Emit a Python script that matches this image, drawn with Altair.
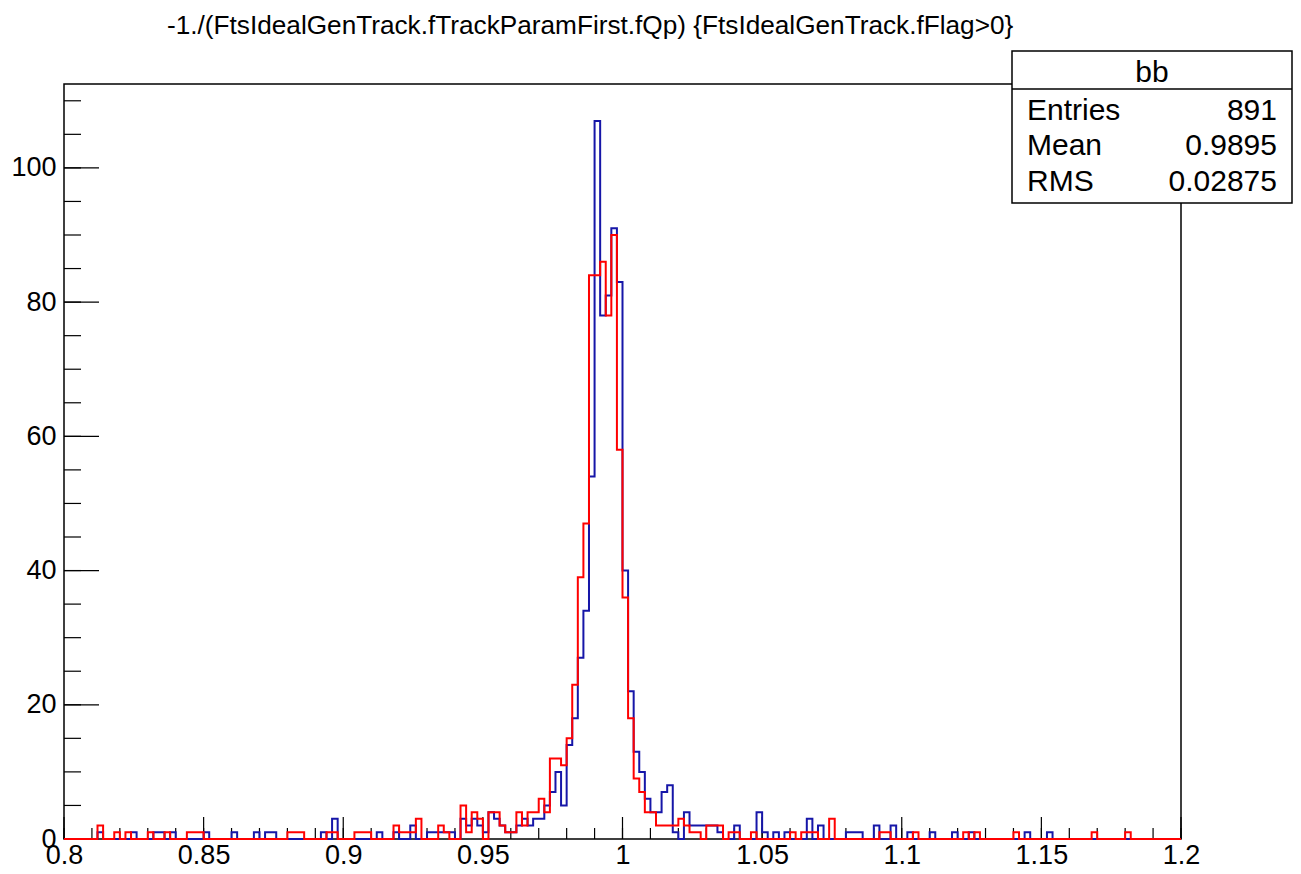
import altair as alt
import pandas as pd

# ---------------- data ----------------
BIN_LO, BIN_W, NBINS = 0.8, 0.002, 200
CORE_START = 69  # first bin index of the dense core lists

# dense core, bins 69..120 (x = 0.938 .. 1.042)
blue_core = [1, 0, 3, 2, 3, 2, 1, 4, 3, 2,
             1, 1, 2, 3, 2, 3, 3, 5, 7, 10,
             5, 14, 18, 27, 34, 54, 107, 78, 81, 91,
             83, 40, 22, 13, 10, 6, 4, 4, 7, 8,
             1, 0, 4, 2, 2, 2, 2, 2, 1, 0,
             0, 2]
red_core = [0, 0, 5, 1, 4, 3, 0, 4, 4, 2,
            1, 1, 4, 2, 4, 4, 6, 4, 12, 12,
            11, 15, 23, 39, 47, 84, 84, 86, 78, 90,
            58, 36, 18, 9, 7, 4, 4, 2, 2, 2,
            2, 3, 2, 1, 1, 0, 2, 2, 2, 0,
            1, 1]

# sparse tails {bin index: count}
blue_tail = {6: 1, 12: 1, 16: 1, 17: 1, 19: 1, 25: 1, 30: 1, 34: 1, 36: 1, 37: 1,
             46: 1, 48: 3, 56: 1, 59: 1, 62: 2, 65: 1, 66: 1, 67: 1, 68: 1,
             124: 4, 125: 1, 127: 1, 129: 1, 133: 3, 135: 2, 140: 1, 141: 1, 142: 1,
             145: 2, 148: 2, 151: 1, 155: 1, 159: 1, 162: 1, 172: 1, 176: 1}
red_tail = {6: 2, 9: 1, 11: 1, 15: 1, 18: 1, 22: 1, 23: 1, 24: 1, 40: 1, 41: 1,
            42: 1, 47: 1, 48: 1, 52: 1, 53: 1, 54: 1, 59: 2, 60: 1, 61: 1, 62: 1,
            63: 3, 67: 2, 68: 1,
            123: 1, 130: 1, 132: 1, 133: 1, 134: 1, 137: 3, 146: 1, 147: 1, 152: 1,
            161: 1, 163: 1, 170: 1, 184: 1, 190: 1}

x_major = [0.8, 0.85, 0.9, 0.95, 1.0, 1.05, 1.1, 1.15, 1.2]
x_minor = [round(0.8 + 0.01 * k, 2) for k in range(41)]
y_major = [0, 20, 40, 60, 80, 100]
y_minor = [5 * k for k in range(23)]

title_text = "-1./(FtsIdealGenTrack.fTrackParamFirst.fQp) {FtsIdealGenTrack.fFlag>0}"
stats_name = "bb"
stats_labels = ["Entries", "Mean", "RMS"]
stats_values = ["891", "0.9895", "0.02875"]

BLUE = "#1616a8"
RED = "#ff0000"
FONT = "Liberation Sans"
W, H = 1117, 755
STAT_FS = 30


def counts(core, tail):
    c = [0] * NBINS
    for k, v in tail.items():
        c[k] = v
    for j, v in enumerate(core):
        c[CORE_START + j] = v
    return c


def hist_frame(core, tail):
    c = counts(core, tail)
    rows = [{"x": round(BIN_LO + BIN_W * i, 4), "n": c[i]} for i in range(NBINS)]
    rows.append({"x": round(BIN_LO + BIN_W * NBINS, 4), "n": c[-1]})
    return pd.DataFrame(rows)


xscale = alt.Scale(domain=[0.8, 1.2], nice=False, zero=False)
yscale = alt.Scale(domain=[0, 112.5], nice=False, zero=False)

xaxis = alt.Axis(values=x_major, format="~g", ticks=False, domain=False,
                 grid=False, labelFontSize=27, labelFont=FONT,
                 labelColor="black", labelPadding=3, labelFlush=False, title=None)
yaxis = alt.Axis(values=y_major, ticks=False, domain=False, grid=False,
                 labelFontSize=27, labelFont=FONT, labelColor="black",
                 labelPadding=8, title=None)


def X(field):
    return alt.X(field, scale=xscale, axis=xaxis, title=None)


def Y(field):
    return alt.Y(field, scale=yscale, axis=yaxis, title=None)


one = pd.DataFrame({"a": [0]})

blue_line = alt.Chart(hist_frame(blue_core, blue_tail)).mark_line(
    interpolate="step-after", color=BLUE, strokeWidth=2
).encode(x=X("x:Q"), y=Y("n:Q"))

red_line = alt.Chart(hist_frame(red_core, red_tail)).mark_line(
    interpolate="step-after", color=RED, strokeWidth=2
).encode(x=X("x:Q"), y=Y("n:Q"))

xmaj = alt.Chart(pd.DataFrame({"x": x_major})).mark_rule(color="black", strokeWidth=1.2).encode(
    x=X("x:Q"), y=alt.value(H), y2=alt.value(H - 22))
xmin = alt.Chart(pd.DataFrame({"x": x_minor})).mark_rule(color="black", strokeWidth=1.2).encode(
    x=X("x:Q"), y=alt.value(H), y2=alt.value(H - 11))
ymaj = alt.Chart(pd.DataFrame({"n": y_major})).mark_rule(color="black", strokeWidth=1.2).encode(
    y=Y("n:Q"), x=alt.value(0), x2=alt.value(35))
ymin = alt.Chart(pd.DataFrame({"n": y_minor})).mark_rule(color="black", strokeWidth=1.2).encode(
    y=Y("n:Q"), x=alt.value(0), x2=alt.value(17))

title = alt.Chart(one).mark_text(
    text=title_text, align="left", baseline="alphabetic", fontSize=26.2, font=FONT, color="black"
).encode(x=alt.value(103), y=alt.value(-50))

box = alt.Chart(one).mark_rect(fill="white", stroke="black", strokeWidth=1.5).encode(
    x=alt.value(948), x2=alt.value(1228), y=alt.value(-33), y2=alt.value(119))
sep = alt.Chart(one).mark_rule(color="black", strokeWidth=1.5).encode(
    x=alt.value(948), x2=alt.value(1228), y=alt.value(5))
name_txt = alt.Chart(one).mark_text(
    text=stats_name, align="center", baseline="alphabetic", fontSize=STAT_FS, font=FONT, color="black"
).encode(x=alt.value(1088), y=alt.value(-2))

layers = [xmin, xmaj, ymin, ymaj, blue_line, red_line, box, sep, name_txt, title]
row_y = [36, 71, 107]
for lab, val, yy in zip(stats_labels, stats_values, row_y):
    layers.append(alt.Chart(one).mark_text(
        text=lab, align="left", baseline="alphabetic", fontSize=STAT_FS, font=FONT, color="black"
    ).encode(x=alt.value(963), y=alt.value(yy)))
    layers.append(alt.Chart(one).mark_text(
        text=val, align="right", baseline="alphabetic", fontSize=STAT_FS, font=FONT, color="black"
    ).encode(x=alt.value(1213), y=alt.value(yy)))

chart = alt.layer(*layers).properties(
    width=W, height=H,
    padding={"left": 56, "top": 76, "right": 112, "bottom": 27},
    autosize=alt.AutoSizeParams(type="none"),
    background="white",
).configure_view(stroke="black", strokeWidth=1.5)

chart.save("out.html", embed_options={"renderer": "svg", "actions": False})
